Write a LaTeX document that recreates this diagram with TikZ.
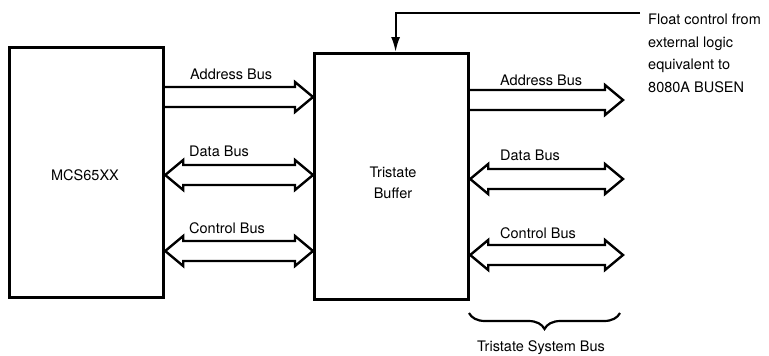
\documentclass[tikz,border=0pt]{standalone}
\usepackage{fontspec}
\setmainfont{TeX Gyre Heros}
\usetikzlibrary{decorations.pathreplacing,calc,arrows.meta}
\newcommand\onebus[2]{%
  \draw[bus] ($(#1)+(0,-10)$) -- ($(#2)+(-18,-10)$) -- ($(#2)+(-18,-15)$) -- (#2)
    -- ($(#2)+(-18,15)$) -- ($(#2)+(-18,10)$) -- ($(#1)+(0,10)$);}
\newcommand\twobus[2]{%
  \draw[bus] (#1) -- ($(#1)+(18,-15)$) -- ($(#1)+(18,-10)$) -- ($(#2)+(-18,-10)$)
    -- ($(#2)+(-18,-15)$) -- (#2) -- ($(#2)+(-18,15)$) -- ($(#2)+(-18,10)$)
    -- ($(#1)+(18,10)$) -- ($(#1)+(18,15)$) -- cycle;}
\begin{document}
\begin{tikzpicture}[x=1pt,y=-1pt,
  box/.style={draw,line width=3.2pt,inner sep=0,anchor=north west},
  bus/.style={line width=2.4pt,line join=miter},
  txt/.style={inner sep=0,font=\fontsize{14.5}{21}\selectfont},
  lbl/.style={txt,anchor=base west}]
\useasboundingbox (0,0) rectangle (769,356);
% boxes
\node[box,minimum width=154pt,minimum height=250pt] (mcs) at (8,46) {};
\node[box,minimum width=154pt,minimum height=246pt] (buf) at (313,52) {};
\node[txt] (mcst) at (85,175) {MCS65XX};
\node[txt,align=center] (buft) at (393,183) {Tristate\\Buffer};
% left buses
\coordinate (la1) at (mcs.east |- 0,97);  \coordinate (la2) at (buf.west |- 0,97);
\coordinate (ld1) at (mcs.east |- 0,175); \coordinate (ld2) at (buf.west |- 0,175);
\coordinate (lc1) at (mcs.east |- 0,251); \coordinate (lc2) at (buf.west |- 0,251);
\onebus{la1}{la2}
\twobus{ld1}{ld2}
\twobus{lc1}{lc2}
\node[lbl] (lat) at (190,79) {Address Bus};
\node[lbl] (ldt) at (189,156) {Data Bus};
\node[lbl] (lct) at (189,233) {Control Bus};
% right buses
\coordinate (ra1) at (buf.east |- 0,100); \coordinate (ra2) at (623,100);
\coordinate (rd1) at (buf.east |- 0,179); \coordinate (rd2) at (623,179);
\coordinate (rc1) at (buf.east |- 0,255); \coordinate (rc2) at (623,255);
\onebus{ra1}{ra2}
\twobus{rd1}{rd2}
\twobus{rc1}{rc2}
\node[lbl] (rat) at (500,85) {Address Bus};
\node[lbl] (rdt) at (500,160) {Data Bus};
\node[lbl] (rct) at (500,238) {Control Bus};
% float control
\node[txt,anchor=north west,align=left,font=\fontsize{14.5}{22.5}\selectfont] (fct) at (648,14)
  {Float control from\\external logic\\equivalent to\\8080A BUSEN};
\coordinate (fc) at (640,13);
\draw[line width=2pt,-{Latex[length=15pt,width=9pt]}] (fc) -| ($(buf.north)+(4,0)$);
% brace
\draw[line width=2.2pt,decorate,decoration={brace,mirror,amplitude=16pt}] (469,313) -- (620,313);
\node[txt,anchor=base] (tsb) at (541,351) {Tristate System Bus};
\end{tikzpicture}
\end{document}
